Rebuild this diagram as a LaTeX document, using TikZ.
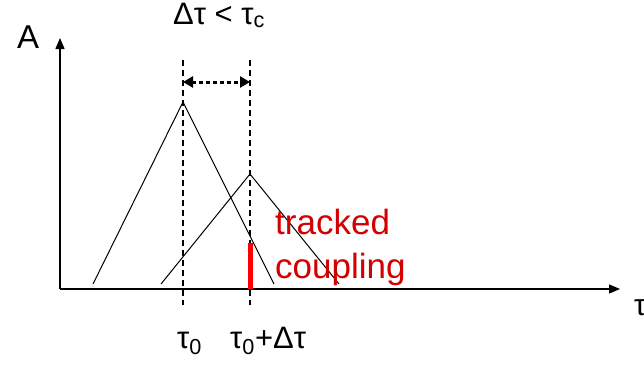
\documentclass[tikz,border=0pt]{standalone}
\usepackage{fontspec}
\setmainfont{Liberation Sans}
\usetikzlibrary{arrows.meta}
\definecolor{trackred}{RGB}{210,0,0}
\tikzset{
  axis/.style={line width=1.3pt, -{Triangle[length=11pt,width=9pt]}},
  pulse/.style={line width=1pt},
  guide/.style={line width=2.5pt, dash pattern=on 6pt off 4pt},
  gap/.style={line width=3pt, dash pattern=on 4pt off 3pt,
              {Triangle[length=10pt,width=11pt]}-{Triangle[length=10pt,width=11pt]}},
  lbl/.style={inner sep=0pt, anchor=base west}
}
\begin{document}
\begin{tikzpicture}[x=1pt,y=-1pt]
  \useasboundingbox (0,0) rectangle (644,365);
  % axes
  \coordinate (origin) at (60,289);
  \draw[axis] (origin) -- (60,38);
  \draw[axis] (origin) -- (620,289);
  \node[lbl, font=\fontsize{33}{33}\selectfont] (amp) at (17,48) {A};
  \node[lbl, font=\fontsize{30}{30}\selectfont] (tau) at (634,315) {τ};

  % the two pulses
  \draw[pulse] (93,284) -- (183,102) -- (274,284);
  \draw[pulse] (161,284) -- (250,174) -- (339,284);

  % guide lines at tau0 and tau0+dtau
  \foreach \x/\n in {183/t0,250/t1} {
    \coordinate (\n top) at (\x,60);
    \coordinate (\n bot) at (\x,305);
    \draw[guide] (\n top) -- (\n bot);
  }
  \draw[gap] (183,82) -- (250,82);
  \node[lbl, anchor=base, font=\fontsize{31}{31}\selectfont] (cond) at (219,24)
    {Δτ < τ\textsubscript{c}};

  % tracked coupling
  \draw[red, line width=5pt] (250,243) -- (origin -| 250,0);
  \node[lbl, align=left, text=trackred, font=\fontsize{35}{44}\selectfont] (track) at (275,278)
    {tracked\\coupling};

  \node[lbl, font=\fontsize{31}{31}\selectfont] (lab0) at (177,348) {τ\textsubscript{0}};
  \node[lbl, font=\fontsize{31}{31}\selectfont] (lab1) at (230,348) {τ\textsubscript{0}+Δτ};
\end{tikzpicture}
\end{document}
